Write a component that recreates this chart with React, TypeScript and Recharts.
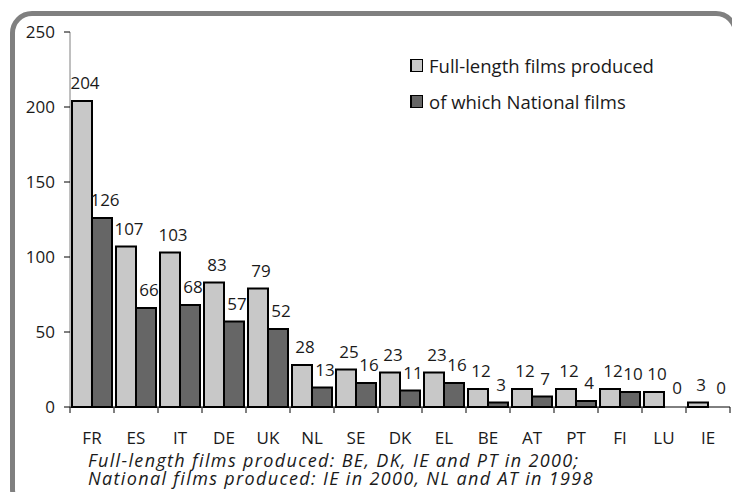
import React from 'react';
import { BarChart, Bar, XAxis, YAxis, LabelList, Rectangle } from 'recharts';

const countries = ['FR', 'ES', 'IT', 'DE', 'UK', 'NL', 'SE', 'DK', 'EL', 'BE', 'AT', 'PT', 'FI', 'LU', 'IE'];
const fullLength = [204, 107, 103, 83, 79, 28, 25, 23, 23, 12, 12, 12, 12, 10, 3];
const national = [126, 66, 68, 57, 52, 13, 16, 11, 16, 3, 7, 4, 10, 0, 0];
const yTicks = [0, 50, 100, 150, 200, 250];

const data = countries.map((c, i) => ({ country: c, full: fullLength[i], national: national[i] }));

const FONT = '"Open Sans", sans-serif';
const colors = {
    light: '#c8c8c8',
    dark: '#666666',
    frame: '#808080',
    text: '#1a1a1a',
};

// category label in the middle, tick marks on the band edges
const CountryTick = (props: any) => {
    const { x, y, payload, index } = props;
    const half = payload?.offset ?? 22;
    const axisY = y - 8;
    return (
        <g>
            <line x1={x - half} x2={x - half} y1={axisY} y2={axisY + 6} stroke="#000" />
            {index === countries.length - 1 && (
                <line x1={x + half} x2={x + half} y1={axisY} y2={axisY + 6} stroke="#000" />
            )}
            <text x={x} y={axisY + 37} textAnchor="middle" fill={colors.text} fontSize={17} fontFamily={FONT}>
                {payload.value}
            </text>
        </g>
    );
};

const ValueLabel = (props: any) => {
    const { x, y, width, value } = props;
    return (
        <text x={x + width / 2 + 3} y={y - 12} textAnchor="middle" fill={colors.text} fontSize={17} fontFamily={FONT}>
            {value}
        </text>
    );
};

// zero values keep their label but draw no bar
const BarShape = (props: any) => {
    if (!props.value && props.value !== undefined && Number(props.value) === 0) return <g />;
    return <Rectangle {...props} />;
};

const LegendItem = ({ color, label, top }: { color: string; label: string; top: number }) => (
    <div style={{ position: 'absolute', left: 410, top, display: 'flex', alignItems: 'center', fontFamily: FONT, fontSize: 18.5, color: colors.text }}>
        <span style={{ display: 'inline-block', width: 10, height: 11, background: color, border: '1px solid #000', borderLeft: '2px solid #000', marginRight: 6 }} />
        {label}
    </div>
);

export default function App() {
    return (
        <div style={{ position: 'absolute', left: 0, top: 0, width: 732, height: 492, overflow: 'hidden', background: '#fff' }}>
            <div style={{ position: 'absolute', left: 10, top: 11, width: 718, height: 490, border: `5px solid ${colors.frame}`, borderRadius: 22 }} />
            <BarChart
                width={732}
                height={492}
                data={data}
                margin={{ top: 32, right: 2, left: 0, bottom: 55 }}
                barCategoryGap={2}
                barGap={0}
                style={{ position: 'absolute', left: 0, top: 0 }}
            >
                <XAxis
                    dataKey="country"
                    axisLine={{ stroke: '#000' }}
                    tickLine={false}
                    tick={<CountryTick />}
                    interval={0}
                    height={30}
                />
                <YAxis
                    domain={[0, 250]}
                    ticks={yTicks}
                    width={70}
                    axisLine={{ stroke: '#808080' }}
                    tickLine={{ stroke: '#000' }}
                    tick={{ fill: colors.text, fontSize: 17, fontFamily: FONT }}
                    tickMargin={9}
                />
                <Bar dataKey="full" fill={colors.light} stroke="#000" strokeWidth={2} isAnimationActive={false}>
                    <LabelList dataKey="full" content={<ValueLabel />} />
                </Bar>
                <Bar
                    dataKey="national"
                    fill={colors.dark}
                    stroke="#000"
                    strokeWidth={2}
                    minPointSize={1}
                    shape={<BarShape />}
                    isAnimationActive={false}
                >
                    <LabelList dataKey="national" content={<ValueLabel />} />
                </Bar>
            </BarChart>
            <LegendItem color={colors.light} label="Full-length films produced" top={53} />
            <LegendItem color={colors.dark} label="of which National films" top={89} />
            <div style={{ position: 'absolute', left: 88, top: 451, fontFamily: FONT, fontStyle: 'italic', fontSize: 18, letterSpacing: 1.35, lineHeight: '18px', color: colors.text, whiteSpace: 'nowrap' }}>
                Full-length films produced: BE, DK, IE and PT in 2000;
                <br />
                National films produced: IE in 2000, NL and AT in 1998
            </div>
        </div>
    );
}
